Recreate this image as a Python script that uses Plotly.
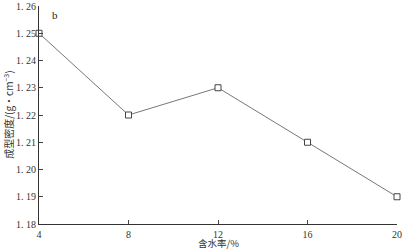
import plotly.graph_objects as go

water = [4, 8, 12, 16, 20]
density = [1.25, 1.22, 1.23, 1.21, 1.19]
x_ticks = [4, 8, 12, 16, 20]
y_ticks = [1.18, 1.19, 1.20, 1.21, 1.22, 1.23, 1.24, 1.25, 1.26]
y_tick_text = ["1. 18", "1. 19", "1. 20", "1. 21", "1. 22", "1. 23", "1. 24", "1. 25", "1. 26"]

fig = go.Figure()
fig.add_trace(go.Scatter(
    x=water, y=density, mode="lines+markers",
    line=dict(color="#777777", width=1),
    marker=dict(symbol="square", size=6, color="white",
                line=dict(width=1, color="#444444")),
    cliponaxis=False, showlegend=False,
))
fig.update_layout(
    width=403, height=250,
    margin=dict(l=39, r=6, t=6, b=26),
    paper_bgcolor="white", plot_bgcolor="white",
    font=dict(family="Liberation Serif, Noto Sans CJK SC", size=10, color="#333333"),
    xaxis=dict(range=[4, 20], tickvals=x_ticks, ticks="inside", ticklen=4,
               showline=True, linecolor="#333333", linewidth=1.2, showgrid=False,
               zeroline=False, tickfont=dict(size=10), automargin=False,
               ticklabelstandoff=1),
    yaxis=dict(range=[1.18, 1.26], tickvals=y_ticks, ticktext=y_tick_text,
               ticks="inside", ticklen=4, showline=True, linecolor="#333333",
               linewidth=1.2, showgrid=False, zeroline=False, tickfont=dict(size=10),
               automargin=False),
    annotations=[
        dict(text="b", xref="paper", yref="paper", x=0.045, y=0.959,
             xanchor="center", yanchor="middle", showarrow=False,
             font=dict(size=11, family="Liberation Serif", color="#222222")),
        dict(text="含水率/%", xref="paper", yref="paper", x=0.5, y=-0.088,
             xanchor="center", yanchor="middle",
             showarrow=False, font=dict(size=9.5, family="Noto Sans CJK SC", color="#333333")),
        dict(text="成型密度/(g·cm<sup>−3</sup>)", xref="paper", yref="paper", x=-0.087, y=0.5,
             xanchor="center", yanchor="middle",
             textangle=-90, showarrow=False,
             font=dict(size=10, family="Noto Sans CJK SC", color="#333333")),
    ],
)
fig.write_html("out.html", config={"displayModeBar": False},
               post_script="document.body.style.margin='0';document.body.style.overflow='hidden';")
